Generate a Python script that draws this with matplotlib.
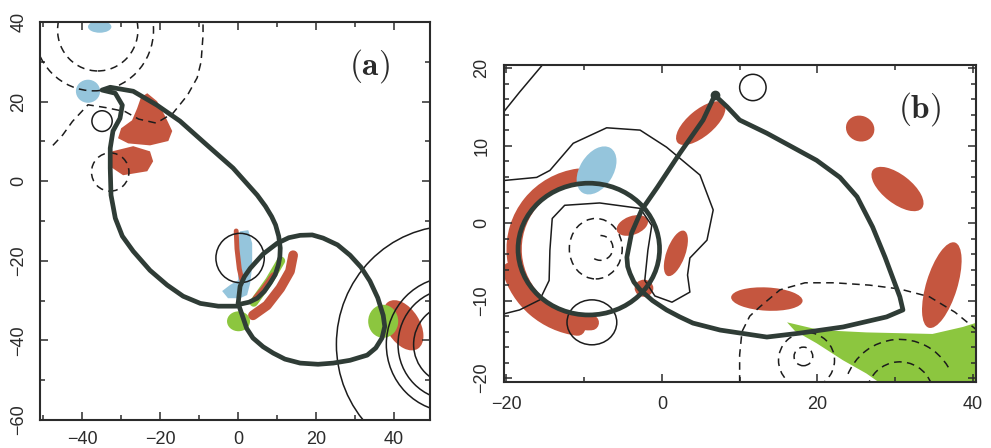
import matplotlib as mpl
mpl.use("Agg")
import matplotlib.pyplot as plt
from matplotlib.patches import Circle, Ellipse, Polygon, Arc
from matplotlib.ticker import MultipleLocator

mpl.rcParams.update({
    "font.family": ["Liberation Sans", "DejaVu Sans"],
    "font.size": 13,
    "mathtext.fontset": "cm",
    "axes.linewidth": 1.5,
    "axes.edgecolor": "#2b2b2b",
    "xtick.color": "#2b2b2b",
    "ytick.color": "#2b2b2b",
})

THICK = "#2f3c36"
THIN = "#1c1c1c"
RED = "#c5563f"
BLUE = "#95c5dc"
GREEN = "#8cc63f"

# ---------------- panel (a) ----------------
A_DROP = [(-0.3, -31.4), (-5.1, -31.4), (-9.7, -30.7), (-14.1, -28.9),
          (-18.2, -26.1), (-22.6, -22.4), (-26.9, -17.6), (-29.7, -13.8),
          (-31.5, -9.3), (-32.6, -3.5), (-32.8, 3.3), (-32.8, 8.3),
          (-32.1, 12.6), (-30.3, 15.8), (-29.7, 19.1), (-31.5, 22.1),
          (-34.9, 22.9), (-32.8, 23.6), (-26.9, 22.6), (-20.8, 19.1),
          (-14.9, 15.1), (-7.9, 9.0), (-1.3, 3.3), (4.9, -3.5),
          (7.0, -6.3), (8.6, -8.9), (9.6, -11.0), (10.4, -13.8),
          (10.8, -16.8), (10.7, -19.0), (10.3, -21.1), (9.5, -23.5),
          (8.2, -25.6), (6.7, -27.7), (4.9, -29.4), (2.8, -30.4),
          (0.5, -30.9)]
A_LOOP = [(0.0, -30.7), (0.5, -26.4), (1.6, -24.0), (3.1, -21.9),
          (6.4, -18.3), (10.0, -15.6), (13.0, -14.2), (15.9, -13.6),
          (19.0, -13.5), (21.8, -14.3), (25.5, -16.0), (28.7, -18.6),
          (31.5, -21.6), (33.8, -25.1), (35.8, -29.3), (37.2, -33.7),
          (37.6, -36.5), (36.9, -39.4), (35.3, -41.9), (33.1, -43.7),
          (28.7, -45.0), (24.4, -45.7), (20.5, -46.0), (15.9, -45.7),
          (12.0, -44.7), (9.0, -43.2), (6.4, -41.6), (3.8, -39.4),
          (2.2, -37.0), (1.3, -34.4), (0.0, -30.7)]
A_DASH_OUT = [(-47.5, 9.0), (-45.0, 11.6), (-42.5, 15.0), (-38.5, 19.2),
              (-34.0, 18.5), (-29.0, 17.5), (-25.5, 15.6), (-21.0, 14.6),
              (-16.7, 17.1), (-13.0, 21.6), (-10.5, 26.0), (-9.5, 30.0),
              (-9.0, 36.7), (-9.0, 41.0)]
# circles: (cx, cy, r)
A_DASH_CIRCLES = [(-36.0, 38.0, 10.3), (-37.0, 38.0, 15.3), (-32.8, 2.3, 4.8)]
A_THIN_CIRCLES = [(0.5, -19.3, 6.2), (-34.9, 15.1, 2.6),
                  (55.0, -41.0, 10.0), (55.0, -41.0, 14.0),
                  (55.0, -41.0, 17.0), (55.0, -41.0, 29.8)]
A_RED_1 = [(-23.3, 22.1), (-20.8, 20.1), (-18.7, 16.3), (-16.9, 12.6),
           (-17.9, 10.1), (-22.6, 9.0), (-28.2, 9.5), (-30.8, 10.8),
           (-30.0, 13.3), (-27.2, 15.3), (-25.9, 18.3), (-24.9, 21.1)]
A_RED_2 = [(-32.3, 7.5), (-26.9, 8.8), (-22.6, 7.5), (-21.8, 5.0),
           (-23.3, 2.5), (-29.5, 1.5), (-33.3, 4.0)]
A_BLUE_MID = [(0.5, -12.6), (2.6, -12.3), (3.6, -15.6), (3.6, -21.4),
              (3.1, -25.6), (2.3, -28.6), (0.5, -29.4), (-2.6, -29.4),
              (-4.1, -27.6), (-2.1, -26.1), (0.0, -24.9), (0.0, -19.3),
              (-0.3, -15.6)]
A_RED_STRIPE = [(-0.5, -12.5), (-0.3, -17.0), (0.3, -22.0), (1.0, -25.0)]
A_GREEN_BAND = [(11.0, -20.0), (8.0, -25.0), (4.0, -30.5)]
A_RED_BAND = [(14.1, -18.6), (13.3, -22.6), (10.8, -26.9), (7.4, -31.2),
              (3.8, -33.7)]
A_RED_INNER = [(9.0, -23.6), (6.5, -27.0), (4.4, -29.4)]
# ellipses: (cx, cy, width, height, angle)
A_BLUE_ELL = [(-35.5, 38.8, 6.0, 3.0, 0), (-38.5, 22.6, 6.2, 5.8, 0)]
A_RED_ELL = [(42.3, -36.2, 14.0, 8.5, -57)]
A_GREEN_ELL = [(0.1, -35.2, 5.9, 5.0, 0), (37.2, -35.2, 7.7, 8.3, 0)]

# ---------------- panel (b) ----------------
B_TIP = (6.8, 16.5)
B_LOOP = [(6.8, 16.5), (5.3, 13.3), (2.3, 9.0), (-0.6, 4.6), (-2.6, 1.7),
          (-3.9, -1.3), (-4.5, -4.4), (-4.4, -5.6), (-4.1, -6.5),
          (-3.6, -7.6), (-2.8, -8.6), (-1.2, -10.0), (0.6, -11.2),
          (2.3, -12.1), (4.0, -12.9), (7.5, -13.8), (13.5, -14.7),
          (17.7, -14.2), (23.3, -13.4), (28.9, -12.1), (31.0, -11.2),
          (30.6, -9.5), (28.7, -4.4), (27.1, -0.5), (25.1, 3.4),
          (22.9, 5.9), (19.9, 8.1), (16.8, 9.8), (13.5, 11.6),
          (10.0, 13.3), (8.4, 15.0), (6.8, 16.5)]
B_THICK_ELL = [(-9.4, -3.35, 18.2, 17.0, 0)]
B_CONTOUR = [(-20.3, 5.5), (-16.1, 5.9), (-14.4, 6.8), (-11.4, 10.3),
             (-7.1, 12.3), (-2.8, 12.0), (0.6, 9.8), (4.9, 6.2),
             (6.6, 1.7), (5.8, -2.2), (3.6, -4.5), (3.3, -6.7),
             (3.6, -8.9), (1.3, -10.2), (-0.9, -9.4), (-2.2, -7.4),
             (-1.8, -3.5), (-1.3, -0.3), (-2.8, 1.9), (-8.0, 2.6),
             (-12.5, 2.3), (-14.1, 0.6), (-14.4, -3.5), (-14.5, -7.4),
             (-15.7, -9.9), (-18.3, -11.2), (-20.3, -11.7)]
B_CORNER = [(-20.3, 14.4), (-18.3, 16.9), (-15.7, 20.0), (-15.2, 20.6)]
B_THIN_ELL = [(11.7, 17.5, 3.4, 3.4, 0), (-9.0, -12.8, 6.4, 5.8, 0)]
B_DASH = [(10.0, -20.6), (10.0, -17.0), (10.3, -14.0), (11.3, -12.0),
          (12.6, -10.8), (15.2, -8.6), (18.4, -7.7), (22.2, -7.7),
          (26.7, -8.0), (30.6, -8.5), (34.4, -9.5), (37.7, -11.5),
          (40.5, -13.8)]
B_DASH_ELL = [(-8.5, -3.3, 6.8, 7.8, 0), (18.6, -17.7, 7.2, 7.2, 0),
              (18.2, -17.2, 2.4, 2.4, 0)]
# dashed arcs: (cx, cy, width, height, theta1, theta2)
B_DASH_ARC = [(-7.9, -3.2, 3.2, 3.2, -120, 90),
              (30.6, -22.2, 8.6, 8.6, 20, 170),
              (30.6, -22.2, 14.4, 14.4, 30, 160)]
B_RED_ARC = [(-9.4, -3.35, 19.2, 19.0, 98, 272),
             (-9.4, -3.35, 21.0, 20.6, 195, 262)]
B_RED_ELL = [(5.0, 12.9, 7.8, 3.4, 40), (25.5, 12.2, 3.7, 3.3, -20),
             (30.3, 4.4, 8.0, 3.7, -38), (36.0, -8.0, 11.5, 4.0, 73),
             (13.5, -9.8, 9.2, 3.0, -3), (-3.8, -0.3, 4.2, 2.4, 20),
             (1.8, -3.9, 6.2, 2.4, 70), (-2.3, -8.4, 2.4, 2.2, 0)]
B_BLUE_ELL = [(-8.4, 6.8, 6.8, 4.3, 58)]
B_GREEN = [(16.1, -12.8), (20.3, -13.8), (26.3, -14.1), (34.8, -14.3),
           (38.7, -13.4), (40.6, -12.8), (40.6, -20.6), (28.0, -20.6),
           (26.3, -19.4), (23.3, -17.7), (19.9, -15.5), (17.1, -13.9)]

DASHES = (0, (5, 3.5))


def line(ax, pts, **kw):
    xs, ys = zip(*pts)
    ax.plot(xs, ys, solid_joinstyle="round", solid_capstyle="round", **kw)


def ellipses(ax, items, **kw):
    for cx, cy, w, h, ang in items:
        ax.add_patch(Ellipse((cx, cy), w, h, angle=ang, **kw))


def circles(ax, items, **kw):
    for cx, cy, r in items:
        ax.add_patch(Circle((cx, cy), r, **kw))


def style_axes(ax, xlim, ylim, xmaj, xmin, ymaj, ymin, xpad, ypad):
    ax.set_xlim(*xlim)
    ax.set_ylim(*ylim)
    ax.xaxis.set_major_locator(MultipleLocator(xmaj))
    ax.xaxis.set_minor_locator(MultipleLocator(xmin))
    ax.yaxis.set_major_locator(MultipleLocator(ymaj))
    ax.yaxis.set_minor_locator(MultipleLocator(ymin))
    ax.tick_params(which="both", direction="in", top=True, right=True,
                   width=1.1, labelsize=13)
    ax.tick_params(which="major", length=6)
    ax.tick_params(which="minor", length=3.5)
    ax.tick_params(axis="x", pad=xpad)
    ax.tick_params(axis="y", pad=ypad, labelrotation=90)
    for lab in ax.get_yticklabels():
        lab.set_va("center")


def main(outpath):
    fig = plt.figure(figsize=(9.91, 4.48), dpi=100)
    fig.patch.set_facecolor("white")

    # ===== panel (a) =====
    ax = fig.add_axes([0.0404, 0.0625, 0.3935, 0.8884])
    ax.add_patch(Polygon(A_RED_1, closed=True, fc=RED, ec="none", zorder=1))
    ax.add_patch(Polygon(A_RED_2, closed=True, fc=RED, ec="none", zorder=1))
    ax.add_patch(Polygon(A_BLUE_MID, closed=True, fc=BLUE, ec="none",
                         zorder=1))
    ellipses(ax, A_BLUE_ELL, fc=BLUE, ec="none", zorder=1)
    ellipses(ax, A_RED_ELL, fc=RED, ec="none", zorder=1)
    line(ax, A_GREEN_BAND, color=GREEN, lw=6, zorder=1)
    line(ax, A_RED_STRIPE, color=RED, lw=3.5, zorder=1.1)
    line(ax, A_RED_BAND, color=RED, lw=7, zorder=1.2)
    line(ax, A_RED_INNER, color=RED, lw=4, zorder=1.2)
    ellipses(ax, A_GREEN_ELL, fc=GREEN, ec="none", zorder=1.3)

    circles(ax, A_DASH_CIRCLES, fill=False, ec=THIN, lw=1.1, ls=DASHES,
            zorder=2)
    line(ax, A_DASH_OUT, color=THIN, lw=1.1, ls=DASHES, zorder=2)
    circles(ax, A_THIN_CIRCLES, fill=False, ec=THIN, lw=1.1, zorder=2)

    line(ax, A_DROP, color=THICK, lw=3.4, zorder=3)
    line(ax, A_LOOP, color=THICK, lw=3.4, zorder=3)

    style_axes(ax, (-50.8, 49.2), (-60, 40), 20, 10, 20, 10, 8, 9)
    ax.text(0.845, 0.89, r"$\mathbf{(a)}$", transform=ax.transAxes,
            fontsize=24, color="#2b2b2b", ha="center", va="center")

    # ===== panel (b) =====
    bx = fig.add_axes([0.5086, 0.1473, 0.4763, 0.7076])
    bx.add_patch(Polygon(B_GREEN, closed=True, fc=GREEN, ec="none",
                         zorder=1))
    for cx, cy, w, h, t1, t2 in B_RED_ARC:
        bx.add_patch(Arc((cx, cy), w, h, theta1=t1, theta2=t2, color=RED,
                         lw=11, capstyle="round", zorder=1))
    ellipses(bx, B_RED_ELL, fc=RED, ec="none", zorder=1)
    ellipses(bx, B_BLUE_ELL, fc=BLUE, ec="none", zorder=1)

    line(bx, B_CONTOUR, color=THIN, lw=1.1, zorder=2)
    line(bx, B_CORNER, color=THIN, lw=1.1, zorder=2)
    ellipses(bx, B_THIN_ELL, fill=False, ec=THIN, lw=1.1, zorder=2)
    line(bx, B_DASH, color=THIN, lw=1.1, ls=DASHES, zorder=2)
    ellipses(bx, B_DASH_ELL, fill=False, ec=THIN, lw=1.1, ls=DASHES,
             zorder=2)
    for cx, cy, w, h, t1, t2 in B_DASH_ARC:
        bx.add_patch(Arc((cx, cy), w, h, theta1=t1, theta2=t2, color=THIN,
                         lw=1.1, ls=DASHES, zorder=2))

    line(bx, B_LOOP, color=THICK, lw=3.4, zorder=3)
    ellipses(bx, B_THICK_ELL, fill=False, ec=THICK, lw=3.4, zorder=3)
    bx.plot(*B_TIP, "o", color=THICK, ms=6, zorder=4)

    style_axes(bx, (-20.3, 40.4), (-20.5, 20.4), 20, 10, 10, 2, 10, 10)
    bx.text(0.88, 0.86, r"$\mathbf{(b)}$", transform=bx.transAxes,
            fontsize=24, color="#2b2b2b", ha="center", va="center")

    fig.savefig(outpath, dpi=100)
    plt.close(fig)


if __name__ == "__main__":
    main("out.png")
